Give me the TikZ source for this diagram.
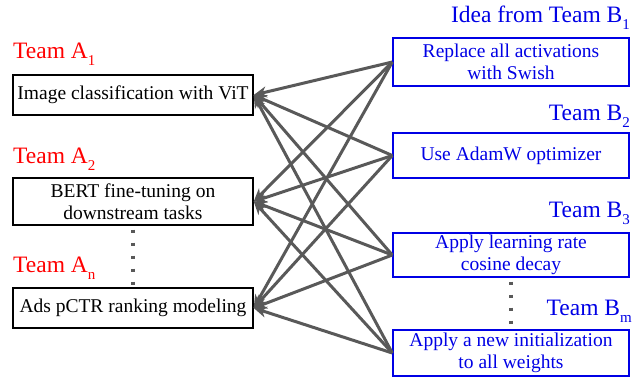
\documentclass[tikz,border=0pt]{standalone}
\usepackage{fontspec}
\setmainfont{Liberation Serif}
\usetikzlibrary{shapes,arrows.meta,positioning,calc}

\newcommand{\teamsub}[1]{\raisebox{-0.32em}{\fontsize{15}{15}\selectfont #1}}

\begin{document}
\begin{tikzpicture}[
    x=1pt, y=-1pt,
    task/.style={rectangle, draw, line width=1.4pt, inner sep=0pt, align=center, font=\fontsize{19.5}{22}\selectfont},
    idea/.style={task, draw=blue!90!black, text=blue!90!black},
    teamA/.style={anchor=base west, inner sep=0pt, text=red, font=\fontsize{23.5}{26}\selectfont},
    teamB/.style={anchor=base east, inner sep=0pt, text=blue!90!black, font=\fontsize{23.5}{26}\selectfont},
    arrow/.style={-{Stealth[length=13pt,width=11pt,inset=4pt]},line width=3pt,draw=black!65},
    dots/.style={line width=3.2pt, draw=black!65, dash pattern=on 3pt off 10pt}
]
\useasboundingbox (0,0) rectangle (635,378);

% Team A tasks
\node[task, minimum width=240pt, minimum height=40pt] (a1) at (133,95) {Image classification with ViT};
\node[task, minimum width=240pt, minimum height=47pt] (a2) at (133,201.5) {BERT fine-tuning on\\downstream tasks};
\node[task, minimum width=240pt, minimum height=40pt] (an) at (133,308) {Ads pCTR ranking modeling};

\node[teamA] (la1) at (13,58) {Team A\teamsub{1}};
\node[teamA] (la2) at (13,163) {Team A\teamsub{2}};
\node[teamA] (lan) at (13,272) {Team A\teamsub{n}};

% Team B ideas
\node[idea, minimum width=236pt, minimum height=48pt] (b1) at (511,62) {Replace all activations\\with Swish};
\node[idea, minimum width=236pt, minimum height=45pt] (b2) at (511,155.5) {Use AdamW optimizer};
\node[idea, minimum width=236pt, minimum height=44pt] (b3) at (511,255) {Apply learning rate\\cosine decay};
\node[idea, minimum width=236pt, minimum height=46pt] (bm) at (511,353) {Apply a new initialization\\to all weights};

\node[teamB] (lb1) at (630,22) {Idea from Team B\teamsub{1}};
\node[teamB] (lb2) at (630,120) {Team B\teamsub{2}};
\node[teamB] (lb3) at (630,217) {Team B\teamsub{3}};
\node[teamB] (lbm) at (632,315) {Team B\teamsub{m}};

% Dots
\draw[dots] ([yshift=-4pt]a2.south) -- (an.north);
\draw[dots] ([yshift=-4pt]b3.south) -- (bm.north);

% Arrows
\foreach \b in {b1, b2, b3, bm} {
    \foreach \a in {a1, a2, an} {
        \draw[arrow] (\b.west) -- (\a.east);
    }
}

\end{tikzpicture}
\end{document}
